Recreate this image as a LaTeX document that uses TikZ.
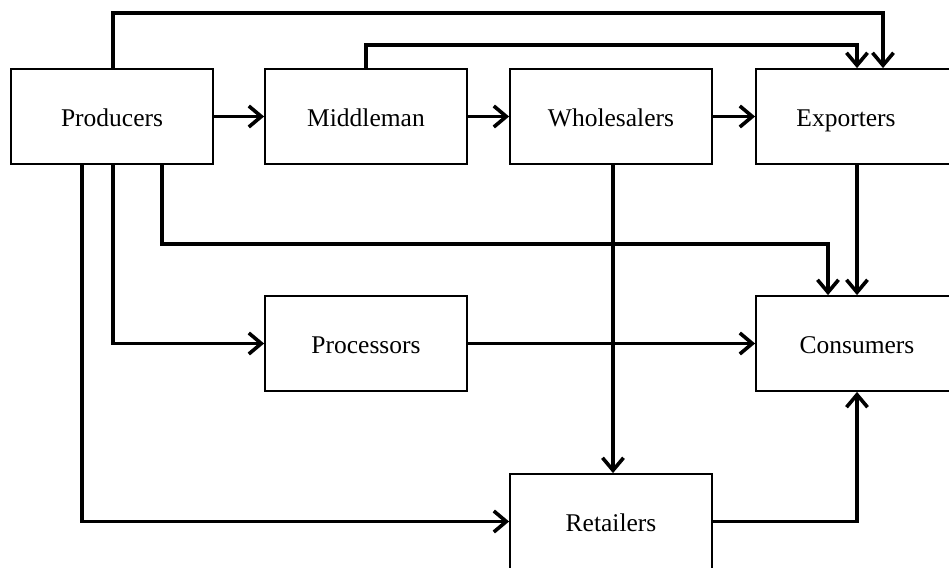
\documentclass[tikz,border=0pt]{standalone}
\usepackage{fontspec}
\setmainfont{Liberation Serif}
\usetikzlibrary{arrows.meta}
\begin{document}
\begin{tikzpicture}[x=1pt,y=-1pt,
  box/.style={draw,line width=1.8pt,minimum width=202pt,minimum height=95pt,inner sep=0pt,
    text height=21pt,text depth=2pt,font=\fontsize{25.5}{30}\selectfont},
  arr/.style={line width=3.6pt,-{Straight Barb[length=12.5pt,width=21pt]}}]
\useasboundingbox (0,0) rectangle (949,567);
\node[box] (prod) at (112,116.5) {Producers};
\node[box] (mid) at (366,116.5) {Middleman};
\node[box] (whole) at (611,116.5) {Wholesalers};
\node[box] (exp) at (857,116.5) {\kern-22pt Exporters};
\node[box] (proc) at (366,343.5) {Processors};
\node[box] (cons) at (857,343.5) {Consumers};
\node[box] (ret) at (611,521.5) {Retailers};
% top lines
\draw[arr] ([xshift=1pt]prod.north) -- ++(0,-55) -| ([xshift=26pt]exp.north);
\draw[arr] (mid.north) -- ++(0,-23) -| (exp.north);
% row
\draw[arr] (prod.east) -- (mid.west);
\draw[arr] (mid.east) -- (whole.west);
\draw[arr] (whole.east) -- (exp.west);
% to consumers
\draw[arr] ([xshift=50pt]prod.south) -- ++(0,79) -| ([xshift=-29pt]cons.north);
\draw[arr] (exp.south) -- (cons.north);
\draw[arr] ([xshift=1pt]prod.south) |- (proc.west);
\draw[arr] (proc.east) -- (cons.west);
\draw[arr] ([xshift=-30pt]prod.south) |- (ret.west);
\draw[arr] ([xshift=2pt]whole.south) -- ([xshift=2pt]ret.north);
\draw[arr] (ret.east) -| (cons.south);
\end{tikzpicture}
\end{document}
